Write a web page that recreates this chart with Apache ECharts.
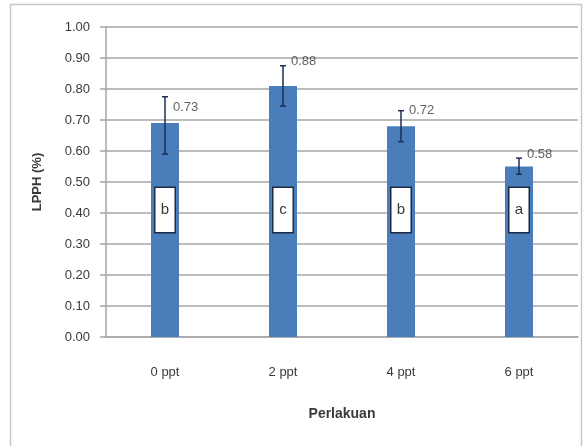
<!DOCTYPE html>
<html>
<head>
<meta charset="utf-8">
<script src="https://cdn.jsdelivr.net/npm/echarts@6/dist/echarts.min.js"></script>
<style>
  html, body { margin: 0; padding: 0; background: #fff; }
  #chart { width: 584px; height: 446px; }
</style>
</head>
<body>
<div id="chart"></div>
<script>
// Treatments (salinity levels)
var categories = ['0 ppt', '2 ppt', '4 ppt', '6 ppt'];
// Mean LPPH (%) per treatment
var meanValues = [0.69, 0.81, 0.68, 0.55];
// Error bar ranges
var errLow = [0.59, 0.745, 0.63, 0.525];
var errHigh = [0.775, 0.875, 0.73, 0.577];
// Values printed next to each error bar
var labelValues = [0.73, 0.88, 0.72, 0.58];
// Significance groups
var groups = ['b', 'c', 'b', 'a'];
var yTicks = { min: 0, max: 1, interval: 0.1 };

var chart = echarts.init(document.getElementById('chart'), null, { renderer: 'canvas' });
var font = 'Liberation Sans';
var gridColor = '#a6a6a6';
var errColor = '#1c2f55';
var textColor = '#3a3a3a';

var option = {
  animation: false,
  textStyle: { fontFamily: font },
  graphic: [{
    type: 'rect',
    shape: { x: 10.5, y: 4.5, width: 571, height: 460 },
    style: { fill: 'none', stroke: '#c8c8c8', lineWidth: 1.5 },
    silent: true
  }],
  grid: { left: 106, right: 6, top: 27, bottom: 109 },
  xAxis: {
    type: 'category',
    data: categories,
    name: 'Perlakuan',
    nameLocation: 'middle',
    nameGap: 70,
    nameTextStyle: { fontFamily: font, fontSize: 14, fontWeight: 'bold', color: textColor },
    axisLine: { lineStyle: { color: gridColor, width: 1.5 } },
    axisTick: { show: false },
    axisLabel: { margin: 29, fontSize: 13, color: textColor, fontFamily: font }
  },
  yAxis: {
    type: 'value',
    min: yTicks.min,
    max: yTicks.max,
    interval: yTicks.interval,
    name: 'LPPH (%)',
    nameLocation: 'middle',
    nameGap: 62,
    nameRotate: 90,
    nameTextStyle: { fontFamily: font, fontSize: 13, fontWeight: 'bold', color: textColor },
    axisLine: { show: true, lineStyle: { color: gridColor, width: 1.5 } },
    axisTick: { show: true, length: 6, lineStyle: { color: gridColor, width: 1.5 } },
    axisLabel: {
      margin: 16, fontSize: 13, color: textColor, fontFamily: font,
      formatter: function (v) { return v.toFixed(2); }
    },
    splitLine: { lineStyle: { color: gridColor, width: 1.5 } }
  },
  series: [
    {
      type: 'bar',
      data: meanValues,
      barWidth: 28,
      itemStyle: { color: '#4a7ebb' },
      label: {
        show: true,
        position: 'insideBottom',
        distance: 105,
        formatter: function (p) { return groups[p.dataIndex]; },
        backgroundColor: '#fff',
        borderColor: '#1b2a45',
        borderWidth: 1.5,
        width: 19,
        height: 44,
        lineHeight: 44,
        align: 'center',
        fontSize: 15,
        color: textColor,
        fontFamily: font
      },
      z: 2
    },
    {
      type: 'custom',
      data: categories.map(function (c, i) { return [i, errLow[i], errHigh[i]]; }),
      renderItem: function (params, api) {
        var x = api.value(0);
        var lo = api.coord([x, api.value(1)]);
        var hi = api.coord([x, api.value(2)]);
        var cap = 3;
        var st = { stroke: errColor, lineWidth: 1.5 };
        return {
          type: 'group',
          children: [
            { type: 'line', shape: { x1: lo[0], y1: lo[1], x2: hi[0], y2: hi[1] }, style: st },
            { type: 'line', shape: { x1: hi[0] - cap, y1: hi[1], x2: hi[0] + cap, y2: hi[1] }, style: st },
            { type: 'line', shape: { x1: lo[0] - cap, y1: lo[1], x2: lo[0] + cap, y2: lo[1] }, style: st }
          ]
        };
      },
      z: 3
    },
    {
      type: 'scatter',
      data: labelValues,
      symbolSize: 0,
      label: {
        show: true,
        position: 'right',
        distance: 8,
        offset: [0, -3],
        formatter: function (p) { return p.value.toFixed(2); },
        fontSize: 13,
        color: textColor,
        fontFamily: font
      },
      z: 4
    }
  ]
};
chart.setOption(option);
</script>
</body>
</html>
